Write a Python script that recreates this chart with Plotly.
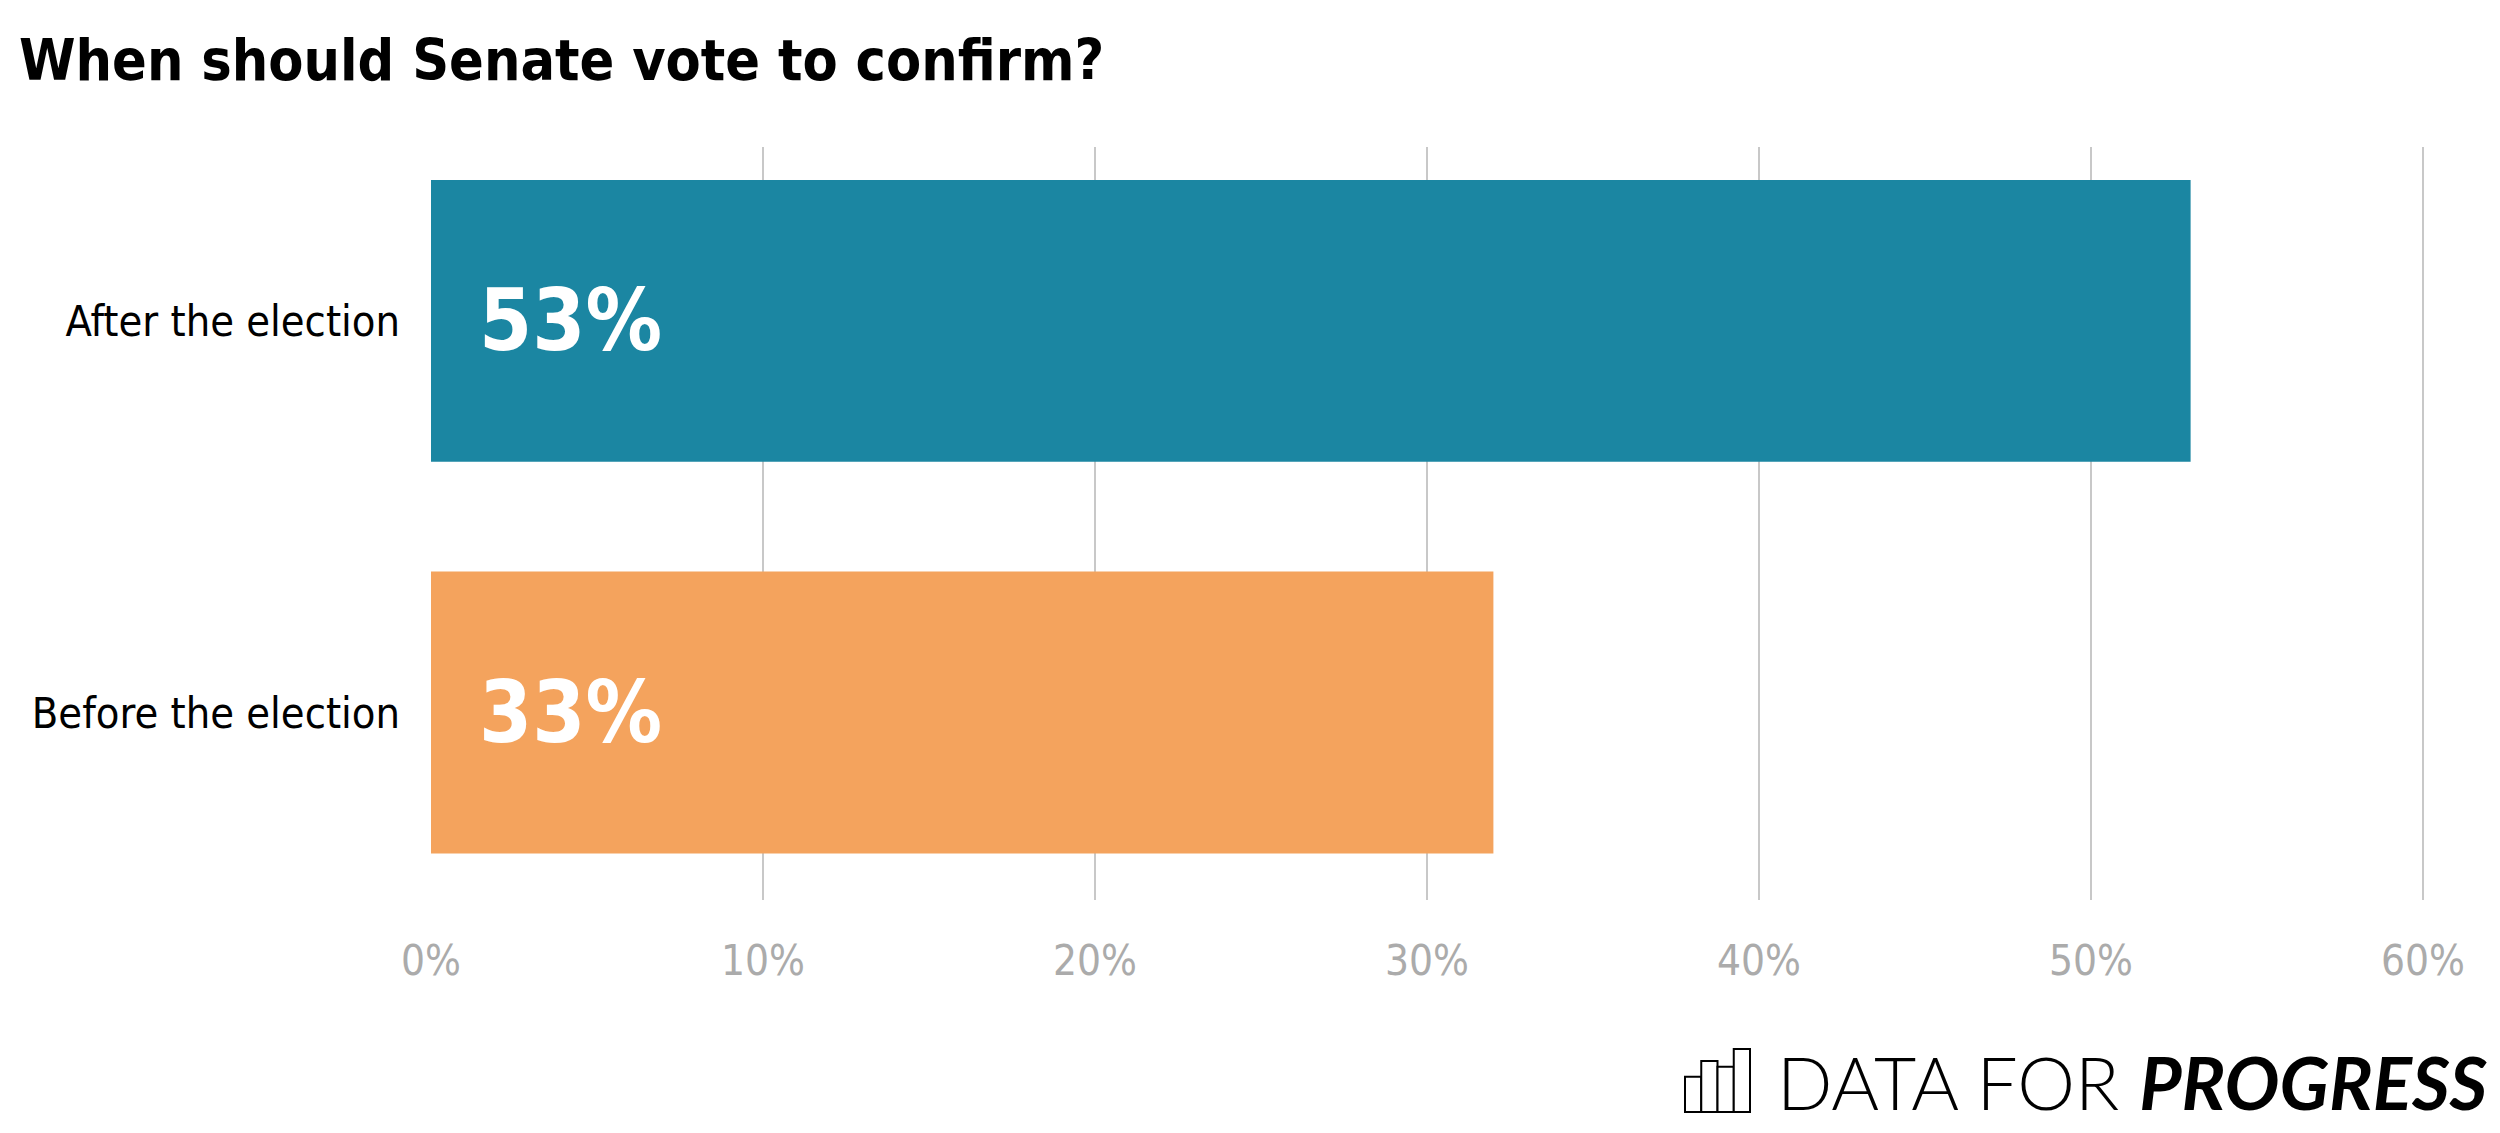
import plotly.graph_objects as go

# ---- data ----
categories = ["After the election", "Before the election"]
values = [53, 32]
value_labels = ["53%", "33%"]
bar_colors = ["#1b86a2", "#f4a35d"]
tick_vals = [0, 10, 20, 30, 40, 50, 60]
tick_text = ["0%", "10%", "20%", "30%", "40%", "50%", "60%"]
title_text = "When should Senate vote to confirm?"

# page body has an 8px margin, so the figure is drawn 8px right and down
OFF = 8
W, H = 2500 - OFF, 1133 - OFF
L, R, T, B = 431 - OFF, 75, 147 - OFF, 233
PW, PH = W - L - R, H - T - B

def px(x):
    return (x - OFF - L) / PW

def py(y):
    return (H - B - (y - OFF)) / PH

NARROW = "Liberation Sans Narrow, DejaVu Sans Condensed, Arial Narrow, sans-serif"

fig = go.Figure()
fig.add_trace(go.Bar(
    x=values, y=categories, orientation="h",
    marker=dict(color=bar_colors, line=dict(width=0)),
    width=0.72, hoverinfo="skip",
))

annotations = []
for cat, lab in zip(categories, value_labels):
    annotations.append(dict(
        x=0, y=cat, xref="x", yref="y", text=lab, showarrow=False,
        xanchor="left", yanchor="middle", xshift=46,
        font=dict(family=NARROW, size=85, color="white", weight="bold"),
    ))

# logo text
annotations.append(dict(
    x=px(2490), y=py(1082), xref="paper", yref="paper",
    text="DATA FOR <b><i>PROGRESS</i></b>", showarrow=False,
    xanchor="right", yanchor="middle",
    font=dict(family="Lato, Noto Sans, sans-serif", size=73, color="#000000", weight=300),
))

shapes = []
icon_left, icon_w, icon_bottom, icon_h = 1685, 16.25, 1112, 63
for i, frac in enumerate([0.56, 0.81, 0.72, 1.0]):
    shapes.append(dict(
        type="rect", xref="paper", yref="paper",
        x0=px(icon_left + i * icon_w), x1=px(icon_left + (i + 1) * icon_w),
        y0=py(icon_bottom), y1=py(icon_bottom - icon_h * frac),
        line=dict(color="#000000", width=2), fillcolor="white",
    ))

fig.update_layout(
    width=W, height=H, autosize=False,
    margin=dict(l=L, r=R, t=T, b=B, pad=0),
    plot_bgcolor="white", paper_bgcolor="white",
    showlegend=False,
    title=dict(
        text="<b>" + title_text + "</b>", xref="container", yref="container",
        x=11 / W, xanchor="left", y=1 - 52 / H, yanchor="middle",
        font=dict(family=NARROW, size=57, color="#000000"),
    ),
    xaxis=dict(
        range=[0, 60.06], tickvals=tick_vals, ticktext=tick_text,
        showgrid=True, gridcolor="#c8c8c8", gridwidth=2,
        zeroline=False, showline=False, ticks="",
        tickfont=dict(family=NARROW, size=42, color="#ababab"),
        ticklabelstandoff=32, fixedrange=True,
    ),
    yaxis=dict(
        type="category", categoryorder="array", categoryarray=categories,
        range=[1.479, -0.444], showgrid=False, zeroline=False, showline=False,
        ticks="", tickfont=dict(family=NARROW, size=43, color="#000000"),
        ticklabelstandoff=30, fixedrange=True,
    ),
    annotations=annotations,
    shapes=shapes,
)

fig.write_html("out.html", config={"displayModeBar": False})
